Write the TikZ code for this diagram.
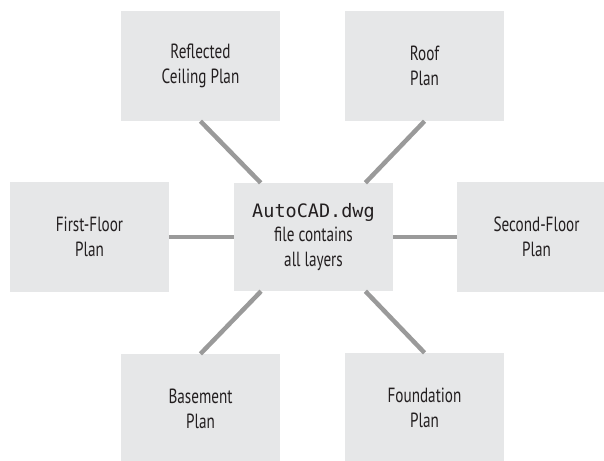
\documentclass[tikz,border=0pt]{standalone}
\usepackage{fontspec}
\setmainfont{PT Sans}[FakeStretch=0.74]
\newfontfamily\codefont{DejaVu Sans Mono}
\definecolor{boxfill}{HTML}{E6E7E8}
\definecolor{linkgray}{HTML}{9A9A9A}
\definecolor{txt}{HTML}{231F20}
\begin{document}
\begin{tikzpicture}[x=1pt,y=-1pt,
  plan/.style={fill=boxfill, draw=none, minimum width=159pt, minimum height=110pt,
    inner sep=0pt, align=center, text=txt, font=\fontsize{20.5}{24.5}\selectfont},
  link/.style={draw=linkgray, line width=4.5pt}]
\useasboundingbox (0,0) rectangle (604,460);
\clip (0,0) rectangle (604,460);
\node[plan] (rc) at (200.5,66) {Reflected\\Ceiling Plan};
\node[plan] (roof) at (424.5,66) {Roof\\Plan};
\node[plan] (ff) at (89.5,237) {First-Floor\\Plan};
\node[plan, minimum height=108pt] (c) at (313.5,237) {{\codefont\fontsize{18.5}{24.5}\selectfont AutoCAD.dwg}\\file contains\\all layers};
\node[plan] (sf) at (536.5,237) {Second-Floor\\Plan};
\node[plan] (base) at (200.5,409) {Basement\\Plan};
\node[plan] (found) at (424.5,408) {Foundation\\Plan};
\draw[link] (c) -- (rc.south);
\draw[link] (c) -- (roof.south);
\draw[link] (c) -- (base.north);
\draw[link] (c) -- (found.north);
\draw[link] (c) -- (ff);
\draw[link] (c) -- (sf);
\end{tikzpicture}
\end{document}
